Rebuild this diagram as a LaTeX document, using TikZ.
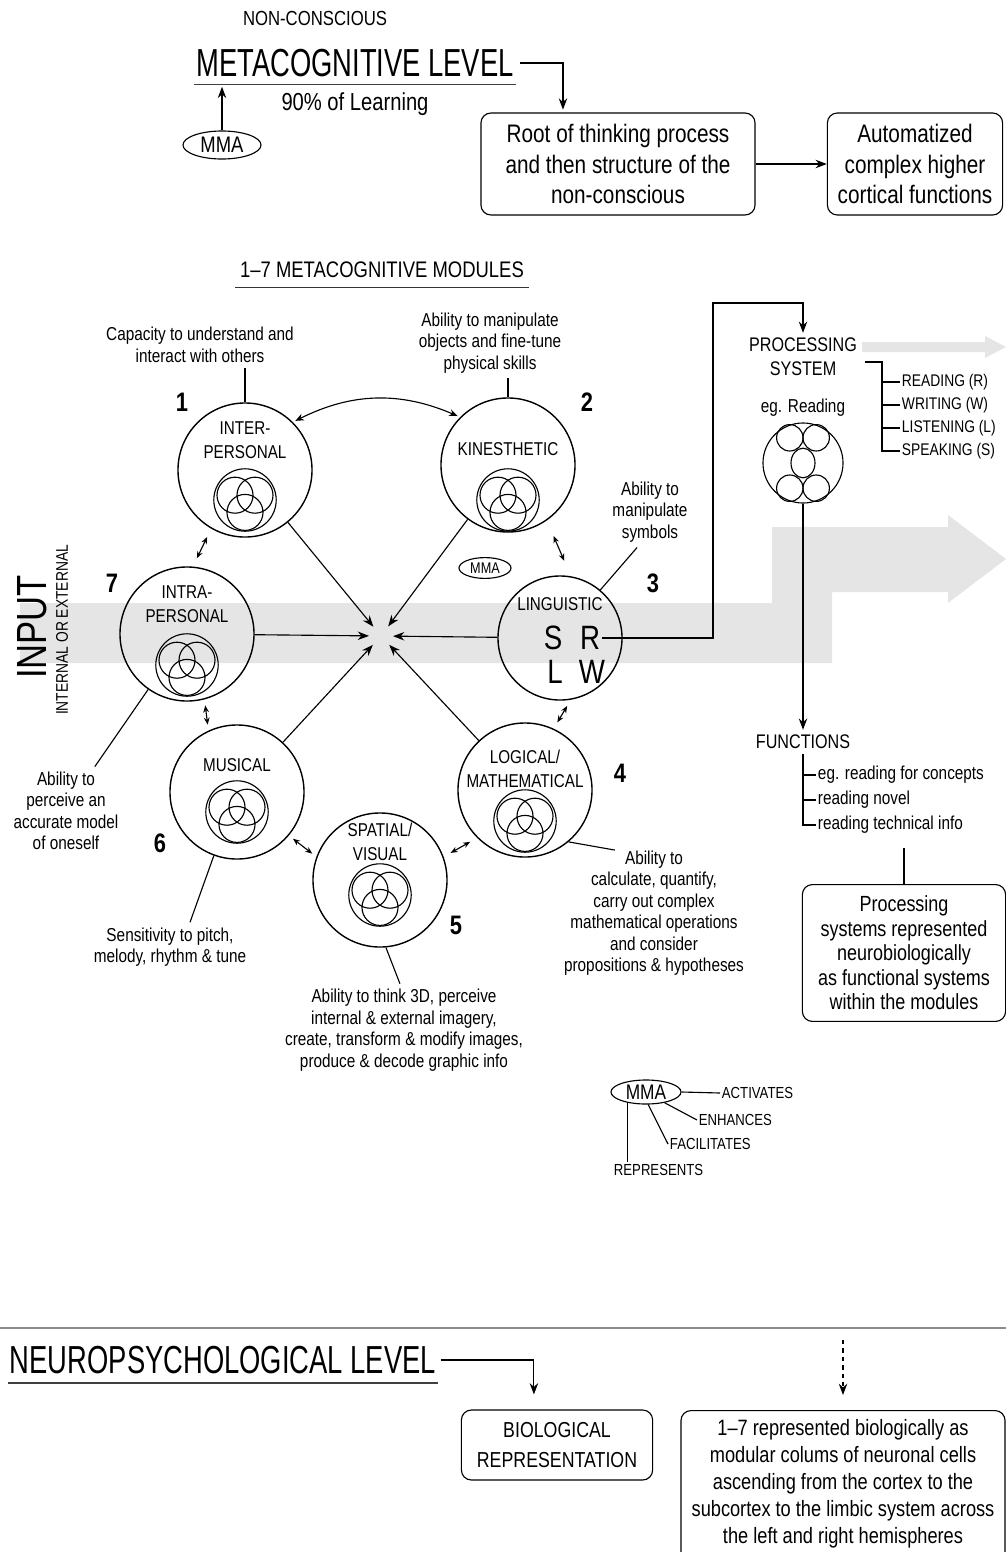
\documentclass[tikz,border=0pt]{standalone}
\usepackage{fontspec}
\setmainfont{Liberation Sans}[FakeStretch=0.82]
\newfontfamily\narrowfont{Liberation Sans}[FakeStretch=0.70]
\usetikzlibrary{arrows.meta,positioning,calc,shapes.geometric}
\tikzset{%
    >={Stealth[length=8pt,width=6pt]},
    module/.style={circle,draw,line width=1pt,minimum size=3.35cm,inner sep=0pt},
    modname/.style={align=center,font=\fontsize{13.2}{17}\selectfont},
    desc/.style={align=center,font=\fontsize{13.3}{15.3}\selectfont},
    lst/.style={anchor=west,inner sep=1pt,font=\fontsize{12}{14}\selectfont},
    num/.style={font=\fontsize{19}{19}\selectfont\bfseries},
    txtbox/.style={draw,rounded corners=2.5mm,align=center,inner sep=3pt},
    mma/.style={ellipse,draw,inner sep=0pt},
    biglevel/.style={font=\narrowfont\fontsize{27.8}{30}\selectfont,inner sep=1pt},
    band/.style={fill=black!10,draw=none},
    dbl/.style={{Stealth[length=5pt,width=4pt]}-{Stealth[length=5pt,width=4pt]},shorten <=#1,shorten >=#1},
    venn/.pic={
        \draw (0,0) circle (0.78cm);
        \draw (-0.25cm,0.12cm) circle (0.45cm);
        \draw (0.25cm,0.12cm) circle (0.45cm);
        \draw (0,-0.31cm) circle (0.45cm);
    },
    cells/.pic={
        \foreach \x/\y in {-0.33/0.63,0.33/0.63,-0.33/-0.63,0.33/-0.63}
            \draw (\x cm,\y cm) circle (0.33cm);
        \draw (0,0) ellipse (0.3cm and 0.37cm);
    }
}

\begin{document}
\begin{tikzpicture}[x=0.025cm,y=-0.025cm,line width=0.8pt,font=\fontsize{13.3}{15.3}\selectfont]
\useasboundingbox (0,0) rectangle (1006,1552);
%% grey input band
\fill[band] (20,603) -- (772,603) -- (772,527) -- (948,527) -- (948,515) -- (1006,559)
    -- (948,603) -- (948,592) -- (832,592) -- (832,663) -- (20,663) -- cycle;
\fill[band] (862,342) -- (985,342) -- (985,336) -- (1006,347) -- (985,358) -- (985,352)
    -- (862,352) -- cycle;

%% metacognitive level
\node[font=\fontsize{14.5}{16}\selectfont] (noncon) at (315,18) {NON-CONSCIOUS};
\node[biglevel] (metalev) at (355,63) {METACOGNITIVE LEVEL};
\draw[line width=1.3pt,black!75] ([yshift=-4pt]metalev.south west) -- ([yshift=-4pt]metalev.south east);
\node[font=\fontsize{17.5}{19}\selectfont] (learn) at (355,104) {90\% of Learning};
\node[mma,minimum width=1.95cm,minimum height=0.7cm,font=\fontsize{16}{16}\selectfont] (mma1) at (222,145) {MMA};
\draw[->] (mma1) -- ([yshift=-0.2cm]mma1.north |- metalev.south);
\node[txtbox,minimum width=6.85cm,minimum height=2.55cm,font=\fontsize{18}{22}\selectfont] (root) at (618,164)
    {Root of thinking process\\and then structure of the\\non-conscious};
\node[txtbox,minimum width=4.38cm,minimum height=2.55cm,font=\fontsize{18}{22}\selectfont] (auto) at (915,164)
    {Automatized\\complex higher\\cortical functions};
\draw[->,shorten <=3pt,shorten >=2pt] (metalev.east) -| ($(root.north west)!0.3!(root.north east)$);
\draw[->] (root) -- (auto);

%% modules
\node[font=\fontsize{16}{16}\selectfont] (modhead) at (382,270) {1--7 METACOGNITIVE MODULES};
\draw[line width=1.1pt,black!80] ([yshift=-3pt]modhead.south west) -- ([yshift=-3pt]modhead.south east);

\node[module] (inter) at (245,470) {};
\node[modname] (intername) at (245,440) {INTER-\\PERSONAL};
\pic at (245,500) {venn};
\node[module] (kin) at (508,465) {};
\node[modname] (kinname) at (508,449) {KINESTHETIC};
\pic at (508,500) {venn};
\node[module,minimum size=3.1cm] (ling) at (560,638) {};
\node[modname] (lingname) at (560,604) {LINGUISTIC};
\node[font=\fontsize{24}{24}\selectfont,inner sep=1pt] (S) at (553,638) {S};
\node[font=\fontsize{24}{24}\selectfont,inner sep=1pt] (R) at (590,638) {R};
\node[font=\fontsize{24}{24}\selectfont,inner sep=1pt] (L) at (555,672) {L};
\node[font=\fontsize{24}{24}\selectfont,inner sep=1pt] (W) at (592,672) {W};
\node[module] (logic) at (525,790) {};
\node[modname] (logicname) at (525,769) {LOGICAL/\\MATHEMATICAL};
\pic at (525,821) {venn};
\node[module] (spatial) at (380,880) {};
\node[modname] (spatialname) at (380,842) {SPATIAL/\\VISUAL};
\pic at (380,895) {venn};
\node[module] (musical) at (237,792) {};
\node[modname] (musicalname) at (237,765) {MUSICAL};
\pic at (237,812) {venn};
\node[module] (intra) at (187,634) {};
\node[modname] (intraname) at (187,604) {INTRA-\\PERSONAL};
\pic at (187,665) {venn};

\node[num] (n1) at (182,402) {1};
\node[num] (n2) at (587,402) {2};
\node[num] (n3) at (653,583) {3};
\node[num] (n4) at (620,773) {4};
\node[num] (n5) at (456,925) {5};
\node[num] (n6) at (160,843) {6};
\node[num] (n7) at (112,583) {7};

\node[mma,minimum width=1.3cm,minimum height=0.52cm,font=\fontsize{11}{11}\selectfont] (mma2) at (485,568) {MMA};

%% all modules feed the hub
\coordinate (hub) at (381,636);
\foreach \m in {inter,kin,ling,logic,musical,intra}
    \draw[->,shorten >=0.3cm] (\m) -- (hub);

%% links between neighbours
\draw[{Stealth[length=6pt,width=5pt]}-{Stealth[length=6pt,width=5pt]},shorten <=2pt,shorten >=2pt]
    (inter.45) to[bend left=25] (kin.135);
\draw[dbl=0.42cm] (kin.-55) -- (ling.80);
\draw[dbl=0.23cm] (inter.240) -- (intra.85);
\draw[dbl=0.15cm] (intra.285) -- (musical.115);
\draw[dbl=0.18cm] (ling.280) -- (logic.65);
\draw[dbl=0.13cm] (musical.-40) -- (spatial.160);
\draw[dbl=0.2cm] (spatial.20) -- (logic.225);

%% descriptions
\node[desc] (d1) at (200,345) {Capacity to understand and\\interact with others};
\draw (inter.north) -- (inter.north |- d1.south);
\node[desc] (d2) at (490,343) {Ability to manipulate\\objects and fine-tune\\physical skills};
\draw (kin.north) -- (kin.north |- d2.south);
\node[desc] (d3) at (650,512) {Ability to\\manipulate\\symbols};
\draw (ling.50) -- (d3.250);
\node[desc] (d4) at (654,913) {Ability to\\calculate, quantify,\\carry out complex\\mathematical operations\\and consider\\propositions \& hypotheses};
\draw (logic.-50) -- ([xshift=-0.98cm,yshift=-0.12cm]d4.north);
\node[desc] (d5) at (404,1030) {Ability to think 3D, perceive\\internal \& external imagery,\\create, transform \& modify images,\\produce \& decode graphic info};
\draw (spatial.275) -- (d5.95);
\node[desc] (d6) at (170,947) {Sensitivity to pitch,\\melody, rhythm \& tune};
\draw (musical.250) -- ([xshift=0.5cm]d6.north);
\node[desc] (d7) at (66,811) {Ability to\\perceive an\\accurate model\\of oneself};
\draw (intra.235) -- ([xshift=0.72cm]d7.north);

%% input
\node[rotate=90,font=\fontsize{30}{30}\selectfont] (inp) at (32,627) {INPUT};
\node[rotate=90,font=\fontsize{12}{12}\selectfont] (inpsub) at (62,630) {INTERNAL OR EXTERNAL};

%% processing system
\node[align=center,font=\fontsize{14}{17}\selectfont] (proc) at (803,357) {PROCESSING\\SYSTEM};
\coordinate (turn) at (713,303);
\draw[->] (R.east) -| (turn) -| (proc.north);
\node (egread) at (803,408) {eg. Reading};
\node[circle,draw,minimum size=2cm,inner sep=0pt] (procc) at (803,463) {};
\pic at (803,463) {cells};
\coordinate (brk) at (882,362);
\foreach \t [count=\i] in {{READING (R)},{WRITING (W)},{LISTENING (L)},{SPEAKING (S)}}
    \node[lst] (sk\i) at (900,{359+23*\i}) {\t};
\draw ([xshift=2pt]proc.east |- brk) -- (brk) |- (sk4.west);
\foreach \i in {1,2,3}
    \draw (brk |- sk\i.west) -- (sk\i.west);

\node[font=\fontsize{14}{16}\selectfont] (funcs) at (803,742) {FUNCTIONS};
\draw[->] (procc) -- (funcs);
\foreach \t [count=\i] in {{eg. reading for concepts},{reading novel},{reading technical info}}
    \node[anchor=west,inner sep=1pt] (fn\i) at (816,{750+25*\i}) {\t};
\draw (funcs.south) |- (fn3.west);
\foreach \i in {1,2}
    \draw (funcs.south |- fn\i.west) -- (fn\i.west);
\node[txtbox,minimum width=5.08cm,minimum height=3.42cm,font=\fontsize{15.6}{17.4}\selectfont] (pbox) at (904,953)
    {Processing\\systems represented\\neurobiologically\\as functional systems\\within the modules};
\draw[shorten >=0.3cm] (pbox.north) -- (pbox.north |- fn3.south);

%% MMA legend
\node[mma,inner xsep=2pt,minimum width=1.75cm,minimum height=0.6cm,font=\fontsize{15}{15}\selectfont] (mma3) at (646,1092) {MMA};
\node[lst,font=\fontsize{11.4}{13}\selectfont] (act) at (720,1093) {ACTIVATES};
\node[lst,font=\fontsize{11.4}{13}\selectfont] (enh) at (697,1120) {ENHANCES};
\node[lst,font=\fontsize{11.4}{13}\selectfont] (fac) at (668,1144) {FACILITATES};
\node[lst,font=\fontsize{11.4}{13}\selectfont] (rep) at (612,1170) {REPRESENTS};
\draw (mma3.east) -- (act.west);
\draw (mma3.-30) -- (enh.west);
\draw (mma3.-80) -- (fac.west);
\draw (mma3.-150) -- (mma3.-150 |- rep.north);

%% neuropsychological level
\draw[line width=1.5pt,black!45] (0,1328) -- (1006,1328);
\node[biglevel,anchor=west] (neuro) at (8,1360) {NEUROPSYCHOLOGICAL LEVEL};
\draw[line width=1.3pt,black!75] ([yshift=-5pt]neuro.south west) -- ([yshift=-5pt]neuro.south east);
\node[txtbox,minimum width=4.78cm,minimum height=1.75cm,font=\fontsize{15.4}{21}\selectfont] (bio) at (557,1445)
    {BIOLOGICAL\\REPRESENTATION};
\node[txtbox,minimum width=8.1cm,inner ysep=6pt,anchor=north,font=\fontsize{15.8}{19.2}\selectfont] (colbox) at (843,1410)
    {1--7 represented biologically as\\modular colums of neuronal cells\\ascending from the cortex to the\\subcortex to the limbic system across\\the left and right hemispheres\\[2pt]\mbox{}};
\draw[->,shorten <=2pt,shorten >=0.375cm] (neuro.east) -| ($(bio.north west)!0.38!(bio.north east)$);
\coordinate (dtop) at (843,1340);
\draw[->,dashed,shorten >=0.375cm] (dtop) -- (colbox.north);
\end{tikzpicture}
\end{document}
